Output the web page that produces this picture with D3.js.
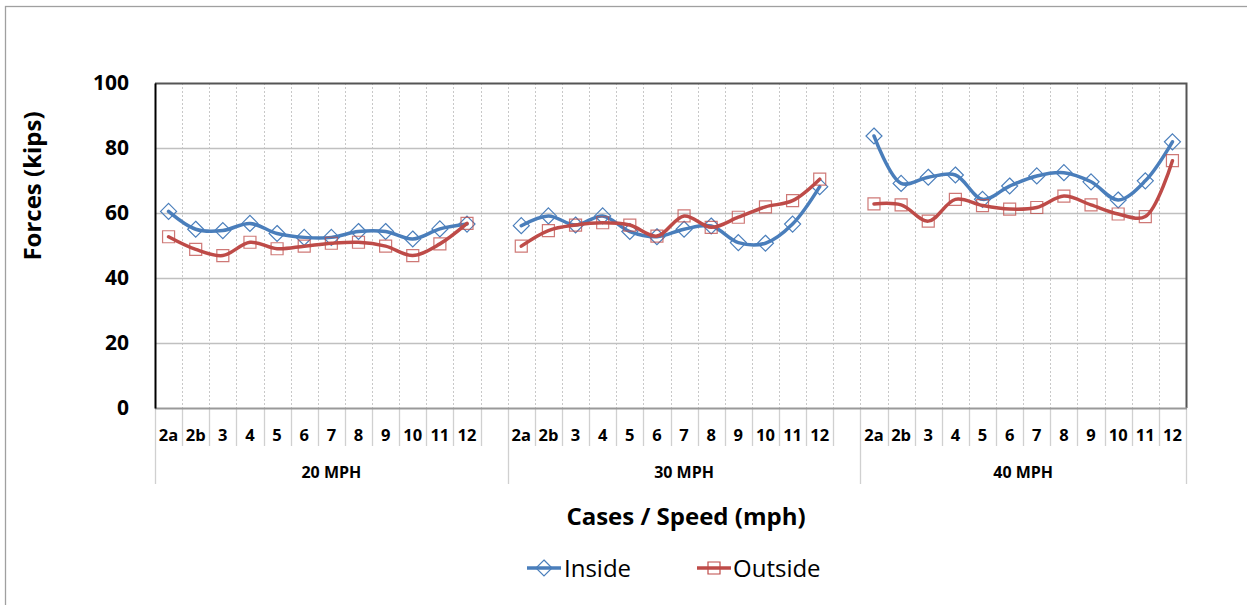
<!DOCTYPE html>
<html>
<head>
<meta charset="utf-8">
<script src="https://cdn.jsdelivr.net/npm/d3@7"></script>
<style>
  html, body { margin: 0; padding: 0; background: #fff; }
  svg { display: block; font-family: "Open Sans", Lato, sans-serif; }
</style>
</head>
<body>
<div id="chart"></div>
<script>
// category / group labels
const cases = ["2a", "2b", "3", "4", "5", "6", "7", "8", "9", "10", "11", "12"];
const speeds = ["20 MPH", "30 MPH", "40 MPH"];
const yTicks = [0, 20, 40, 60, 80, 100];

// forces (kips)
const inside20 = [60.5, 55.0, 54.6, 56.8, 53.7, 52.5, 52.5, 54.3, 54.3, 52.0, 55.1, 56.6];
const inside30 = [56.1, 59.1, 56.3, 59.1, 54.3, 52.7, 55.0, 56.0, 50.9, 50.7, 56.6, 68.1];
const inside40 = [83.7, 69.1, 71.0, 71.7, 64.2, 68.3, 71.4, 72.4, 69.6, 64.0, 69.9, 81.9];
const outside20 = [52.7, 48.8, 46.9, 51.0, 49.0, 49.8, 50.7, 51.0, 49.8, 46.9, 50.5, 56.8];
const outside30 = [49.8, 54.6, 56.3, 57.0, 56.3, 52.9, 59.1, 55.6, 58.7, 61.9, 63.8, 70.4];
const outside40 = [62.8, 62.5, 57.5, 64.2, 62.3, 61.2, 61.7, 65.2, 62.5, 59.7, 58.9, 76.1];

const W = 1247, H = 605;
const plot = { left: 155, right: 1186, top: 83, bottom: 408 };
const BLUE = "#4a7ebb", RED = "#be4b48";

// slots: 12 cases per speed with an empty slot between speeds
const slots = [];
speeds.forEach((s, i) => {
  cases.forEach((c) => slots.push(s + "|" + c));
  if (i < speeds.length - 1) slots.push("gap" + i);
});

const x = d3.scaleBand().domain(slots).range([plot.left, plot.right]).padding(0);
const y = d3.scaleLinear().domain([0, 100]).range([plot.bottom, plot.top]);

const series = [
  { name: "Inside", color: BLUE, shape: "diamond", groups: [inside20, inside30, inside40] },
  { name: "Outside", color: RED, shape: "square", groups: [outside20, outside30, outside40] },
];

const svg = d3.select("#chart").append("svg").attr("width", W).attr("height", H);

// outer chart frame
svg.append("rect")
  .attr("x", 5.5).attr("y", 6.5).attr("width", 1300).attr("height", 700)
  .attr("fill", "none").attr("stroke", "#a0a0a0").attr("stroke-width", 1.3);

// vertical dotted gridlines at slot boundaries
svg.append("g")
  .selectAll("line")
  .data(slots.slice(1))
  .join("line")
  .attr("x1", (d) => Math.round(x(d)) + 0.5)
  .attr("x2", (d) => Math.round(x(d)) + 0.5)
  .attr("y1", plot.top).attr("y2", plot.bottom)
  .attr("stroke", "#c8c8c8").attr("stroke-dasharray", "2,2");

// horizontal gridlines
svg.append("g")
  .selectAll("line")
  .data(yTicks.filter((t) => t > 0 && t < 100))
  .join("line")
  .attr("x1", plot.left).attr("x2", plot.right)
  .attr("y1", (d) => Math.round(y(d)) + 0.5)
  .attr("y2", (d) => Math.round(y(d)) + 0.5)
  .attr("stroke", "#c0c0c0").attr("stroke-width", 1.3);

// plot border (top / right dark)
svg.append("path")
  .attr("d", `M${plot.left},${plot.top + 0.5}H${plot.right + 0.5}V${plot.bottom}`)
  .attr("fill", "none").attr("stroke", "#555").attr("stroke-width", 2);

// category tick marks below the axis
const boundaries = slots.map((d) => x(d)).concat([plot.right]);
const groupEdges = [0, 13, 26, 38].map((i) => boundaries[i]);
svg.append("g")
  .selectAll("line")
  .data(boundaries.filter((b) => !groupEdges.includes(b)))
  .join("line")
  .attr("x1", (d) => Math.round(d) + 0.5).attr("x2", (d) => Math.round(d) + 0.5)
  .attr("y1", plot.bottom).attr("y2", 446)
  .attr("stroke", "#d0d0d0").attr("stroke-width", 1.3);
svg.append("g")
  .selectAll("line")
  .data(groupEdges)
  .join("line")
  .attr("x1", (d) => Math.round(d) + 0.5).attr("x2", (d) => Math.round(d) + 0.5)
  .attr("y1", plot.bottom).attr("y2", 484)
  .attr("stroke", "#d0d0d0").attr("stroke-width", 1.3);

// x axis line
svg.append("line")
  .attr("x1", plot.left).attr("x2", plot.right + 1)
  .attr("y1", plot.bottom + 0.5).attr("y2", plot.bottom + 0.5)
  .attr("stroke", "#999").attr("stroke-width", 2);

// y axis
const yAxis = d3.axisLeft(y).tickValues(yTicks).tickSize(0).tickPadding(26);
const yg = svg.append("g").attr("transform", `translate(${plot.left},0)`).call(yAxis);
yg.select(".domain").attr("stroke", "#000").attr("stroke-width", 2);
yg.selectAll("text")
  .attr("font-family", "'Open Sans', sans-serif").attr("font-size", 21).attr("font-weight", 700)
  .attr("fill", "#000");

// case labels
svg.append("g")
  .selectAll("text")
  .data(slots.filter((d) => d.includes("|")))
  .join("text")
  .attr("x", (d) => x(d) + x.bandwidth() / 2)
  .attr("y", 441)
  .attr("text-anchor", "middle")
  .attr("font-size", 16.5).attr("font-weight", 700)
  .text((d) => d.split("|")[1]);

// speed labels
svg.append("g")
  .selectAll("text")
  .data(speeds)
  .join("text")
  .attr("x", (d, i) => (groupEdges[i] + (i < 2 ? groupEdges[i + 1] : plot.right)) / 2)
  .attr("y", 478)
  .attr("text-anchor", "middle")
  .attr("font-size", 16).attr("font-weight", 700)
  .text((d) => d);

// axis titles
svg.append("text")
  .attr("x", 686).attr("y", 525)
  .attr("text-anchor", "middle")
  .attr("font-size", 24).attr("font-weight", 700)
  .text("Cases / Speed (mph)");
svg.append("text")
  .attr("transform", "translate(41,186) rotate(-90)")
  .attr("text-anchor", "middle")
  .attr("font-size", 24).attr("font-weight", 700)
  .text("Forces (kips)");

// markers
const diamond = (s) => `M0,${-s}L${s},0L0,${s}L${-s},0Z`;
const square = (s) => `M${-s},${-s}H${s}V${s}H${-s}Z`;
const markerPath = (shape) => (shape === "diamond" ? diamond(8) : square(6));

const line = d3.line()
  .x((d) => x(d.slot) + x.bandwidth() / 2)
  .y((d) => y(d.v))
  .curve(d3.curveCatmullRom.alpha(0.5));

series.forEach((s) => {
  const g = svg.append("g");
  s.groups.forEach((vals, gi) => {
    const pts = vals.map((v, i) => ({ slot: speeds[gi] + "|" + cases[i], v }));
    g.append("path")
      .attr("d", line(pts))
      .attr("fill", "none").attr("stroke", s.color)
      .attr("stroke-width", 3.5).attr("stroke-linejoin", "round").attr("stroke-linecap", "round");
    g.selectAll(null)
      .data(pts)
      .join("path")
      .attr("transform", (d) => `translate(${x(d.slot) + x.bandwidth() / 2},${y(d.v)})`)
      .attr("d", markerPath(s.shape))
      .attr("fill", "none").attr("stroke", s.color).attr("stroke-width", 1.2)
      .attr("stroke-opacity", s.shape === "square" ? 0.75 : 1);
  });
});

// legend
const legend = [
  { s: series[0], x: 527, tx: 564 },
  { s: series[1], x: 697, tx: 733 },
];
legend.forEach(({ s, x: lx, tx }) => {
  const g = svg.append("g");
  g.append("line")
    .attr("x1", lx).attr("x2", lx + 34).attr("y1", 568).attr("y2", 568)
    .attr("stroke", s.color).attr("stroke-width", 3.5);
  g.append("path")
    .attr("transform", `translate(${lx + 17},568)`)
    .attr("d", markerPath(s.shape))
    .attr("fill", "none").attr("stroke", s.color).attr("stroke-width", 1.2);
  g.append("text")
    .attr("x", tx).attr("y", 577)
    .attr("font-size", 24)
    .text(s.name);
});
</script>
</body>
</html>
